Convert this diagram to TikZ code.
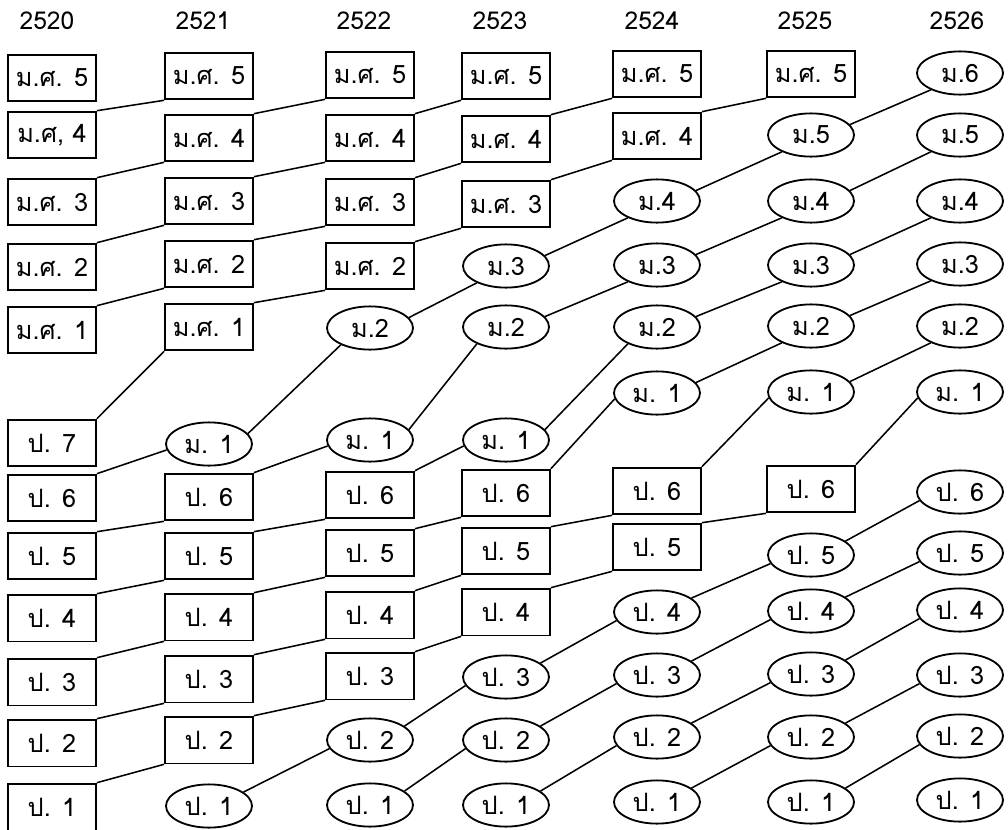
\documentclass[tikz,border=0pt]{standalone}
\usepackage{fontspec}
\newfontfamily\thaifont[Script=Thai]{Loma}
\usetikzlibrary{shapes.geometric}

\begin{document}
\begin{tikzpicture}[
  x=0.025cm, y=-0.025cm,
  font=\thaifont\fontsize{18}{21}\selectfont,
  oldbox/.style={rectangle, draw=black, line width=1.3pt, minimum width=2.2cm,
                 minimum height=1.17cm, inner sep=0pt},
  newell/.style={ellipse, draw=black, line width=1.3pt, minimum width=2.15cm,
                 minimum height=1.08cm, inner sep=0pt},
  year/.style={font=\thaifont\fontsize{17.5}{20}\selectfont},
  link/.style={line width=1.1pt}
]
  \useasboundingbox (0,0) rectangle (1008,830);

  % years along the top
  \foreach \yr/\x in {2520/47, 2521/203, 2522/364, 2523/500, 2524/652, 2525/805, 2526/957}
    \node[year] (h\yr) at (\x,21) {\yr};

  % 2520
  \foreach \s/\n/\t/\y in {oldbox/ms5/{ม.ศ. 5}/78, oldbox/ms4/{ม.ศ, 4}/135, oldbox/ms3/{ม.ศ. 3}/202,
      oldbox/ms2/{ม.ศ. 2}/267, oldbox/ms1/{ม.ศ. 1}/330, oldbox/p7/{ป. 7}/443, oldbox/p6/{ป. 6}/498,
      oldbox/p5/{ป. 5}/556, oldbox/p4/{ป. 4}/618, oldbox/p3/{ป. 3}/682, oldbox/p2/{ป. 2}/743,
      oldbox/p1/{ป. 1}/807}
    \node[\s] (\n-20) at (52,\y) {\t};
  % 2521
  \foreach \s/\n/\t/\y in {oldbox/ms5/{ม.ศ. 5}/76, oldbox/ms4/{ม.ศ. 4}/138, oldbox/ms3/{ม.ศ. 3}/201,
      oldbox/ms2/{ม.ศ. 2}/264, oldbox/ms1/{ม.ศ. 1}/327, newell/m1/{ม. 1}/444, oldbox/p6/{ป. 6}/497,
      oldbox/p5/{ป. 5}/556, oldbox/p4/{ป. 4}/617, oldbox/p3/{ป. 3}/679, oldbox/p2/{ป. 2}/740,
      newell/p1/{ป. 1}/806}
    \node[\s] (\n-21) at (209,\y) {\t};
  % 2522
  \foreach \s/\n/\t/\y in {oldbox/ms5/{ม.ศ. 5}/75, oldbox/ms4/{ม.ศ. 4}/138, oldbox/ms3/{ม.ศ. 3}/202,
      oldbox/ms2/{ม.ศ. 2}/266, newell/m2/{ม.2}/328, newell/m1/{ม. 1}/440, oldbox/p6/{ป. 6}/495,
      oldbox/p5/{ป. 5}/553, oldbox/p4/{ป. 4}/615, oldbox/p3/{ป. 3}/676, newell/p2/{ป. 2}/740,
      newell/p1/{ป. 1}/805}
    \node[\s] (\n-22) at (370,\y) {\t};
  % 2523
  \foreach \s/\n/\t/\y in {oldbox/ms5/{ม.ศ. 5}/76, oldbox/ms4/{ม.ศ. 4}/139, oldbox/ms3/{ม.ศ. 3}/204,
      newell/m3/{ม.3}/266, newell/m2/{ม.2}/327, newell/m1/{ม. 1}/440, oldbox/p6/{ป. 6}/493,
      oldbox/p5/{ป. 5}/551, oldbox/p4/{ป. 4}/612, newell/p3/{ป. 3}/677, newell/p2/{ป. 2}/740,
      newell/p1/{ป. 1}/805}
    \node[\s] (\n-23) at (506,\y) {\t};
  % 2524
  \foreach \s/\n/\t/\y in {oldbox/ms5/{ม.ศ. 5}/74, oldbox/ms4/{ม.ศ. 4}/136, newell/m4/{ม.4}/201,
      newell/m3/{ม.3}/265, newell/m2/{ม.2}/327, newell/m1/{ม. 1}/393, oldbox/p6/{ป. 6}/491,
      oldbox/p5/{ป. 5}/547, newell/p4/{ป. 4}/612, newell/p3/{ป. 3}/675, newell/p2/{ป. 2}/737,
      newell/p1/{ป. 1}/802}
    \node[\s] (\n-24) at (657,\y) {\t};
  % 2525
  \foreach \s/\n/\t/\y in {oldbox/ms5/{ม.ศ. 5}/74, newell/m5/{ม.5}/135, newell/m4/{ม.4}/201,
      newell/m3/{ม.3}/265, newell/m2/{ม.2}/326, newell/m1/{ม. 1}/392, oldbox/p6/{ป. 6}/489,
      newell/p5/{ป. 5}/555, newell/p4/{ป. 4}/611, newell/p3/{ป. 3}/674, newell/p2/{ป. 2}/737,
      newell/p1/{ป. 1}/802}
    \node[\s] (\n-25) at (811,\y) {\t};
  % 2526
  \foreach \s/\n/\t/\y in {newell/m6/{ม.6}/73, newell/m5/{ม.5}/135, newell/m4/{ม.4}/201,
      newell/m3/{ม.3}/264, newell/m2/{ม.2}/326, newell/m1/{ม. 1}/392, newell/p6/{ป. 6}/492,
      newell/p5/{ป. 5}/553, newell/p4/{ป. 4}/610, newell/p3/{ป. 3}/675, newell/p2/{ป. 2}/736,
      newell/p1/{ป. 1}/800}
    \node[\s] (\n-26) at (960,\y) {\t};

  % box to box
  \foreach \a/\b in {ms4-20/ms5-21, ms3-20/ms4-21, ms2-20/ms3-21, ms1-20/ms2-21, p7-20/ms1-21,
      p5-20/p6-21, p4-20/p5-21, p3-20/p4-21, p2-20/p3-21, p1-20/p2-21,
      ms4-21/ms5-22, ms3-21/ms4-22, ms2-21/ms3-22, ms1-21/ms2-22,
      p5-21/p6-22, p4-21/p5-22, p3-21/p4-22, p2-21/p3-22,
      ms4-22/ms5-23, ms3-22/ms4-23, ms2-22/ms3-23, p5-22/p6-23, p4-22/p5-23, p3-22/p4-23,
      ms4-23/ms5-24, ms3-23/ms4-24, p5-23/p6-24, p4-23/p5-24,
      ms4-24/ms5-25, p5-24/p6-25}
    \draw[link] (\a.north east) -- (\b.south west);
  % p6 box to m1 ellipse
  \foreach \a/\b in {p6-20/m1-21, p6-21/m1-22, p6-22/m1-23, p6-23/m1-24, p6-24/m1-25, p6-25/m1-26}
    \draw[link] (\a.north east) -- (\b.188);
  % ellipse to ellipse, upper grades
  \foreach \a/\b in {m1-21/m2-22, m2-22/m3-23, m1-22/m2-23, m3-23/m4-24, m2-23/m3-24, m1-23/m2-24,
      m4-24/m5-25, m3-24/m4-25, m2-24/m3-25, m1-24/m2-25,
      m5-25/m6-26, m4-25/m5-26, m3-25/m4-26, m2-25/m3-26, m1-25/m2-26}
    \draw[link] (\a.15) -- (\b.210);
  % ellipse to ellipse, lower grades
  \foreach \a/\b in {p1-21/p2-22, p2-22/p3-23, p1-22/p2-23, p3-23/p4-24, p2-23/p3-24, p1-23/p2-24,
      p4-24/p5-25, p3-24/p4-25, p2-24/p3-25, p1-24/p2-25,
      p5-25/p6-26, p4-25/p5-26, p3-25/p4-26, p2-25/p3-26, p1-25/p2-26}
    \draw[link] (\a.22) -- (\b.192);
\end{tikzpicture}
\end{document}
